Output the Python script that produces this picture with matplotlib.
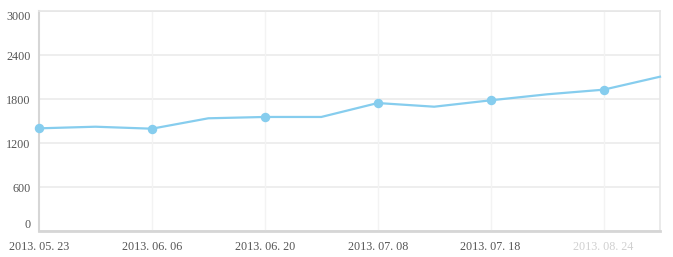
import matplotlib
matplotlib.use("Agg")
import matplotlib.pyplot as plt
import numpy as np

values = [1400, 1422, 1395, 1537, 1555, 1555, 1745, 1695, 1782, 1864, 1927, 2104]
tick_labels = ["2013. 05. 23", "2013. 06. 06", "2013. 06. 20", "2013. 07. 08", "2013. 07. 18", "2013. 08. 24"]
y_ticks = [0, 600, 1200, 1800, 2400, 3000]

W, H = 673, 257
fig = plt.figure(figsize=(W / 100, H / 100), dpi=100)
ax = fig.add_axes([39 / W, 1 - 231 / H, (660 - 39) / W, (231 - 11) / H])

x = np.arange(len(values))
line_color = "#86cdee"
ax.plot(x, values, color=line_color, lw=1.6, zorder=3, clip_on=False)
ax.plot(x[::2], np.array(values)[::2], "o", color=line_color, ms=5.8, zorder=4, clip_on=False)

ax.set_xlim(0, len(values) - 1)
ax.set_ylim(0, 3000)
ax.set_yticks(y_ticks)
ax.set_yticklabels([str(v) for v in y_ticks])
ax.set_xticks(x[::2])
ax.set_xticklabels(tick_labels)

for yv in y_ticks:
    ax.axhline(yv, color="#ebebeb", lw=1.2, zorder=1)
for xv in x[::2][1:]:
    ax.axvline(xv, color="#f3f3f3", lw=1.0, zorder=1)

for side in ["top", "right"]:
    ax.spines[side].set_color("#e6e6e6")
    ax.spines[side].set_linewidth(1.2)
ax.spines["left"].set_color("#d6d6d6")
ax.spines["left"].set_linewidth(1.5)
ax.spines["bottom"].set_color("#d6d6d6")
ax.spines["bottom"].set_linewidth(2.0)

ax.tick_params(length=0, pad=6, labelsize=8.7, labelcolor="#555555")
for lab in ax.get_yticklabels() + ax.get_xticklabels():
    lab.set_family("Liberation Serif")
ax.tick_params(axis="x", pad=7)

ylabs = ax.get_yticklabels()
ylabs[-1].set_va("top")
ylabs[0].set_va("bottom")
ax.get_xticklabels()[-1].set_color("#d0d0d0")

fig.savefig("out.png", dpi=100)
